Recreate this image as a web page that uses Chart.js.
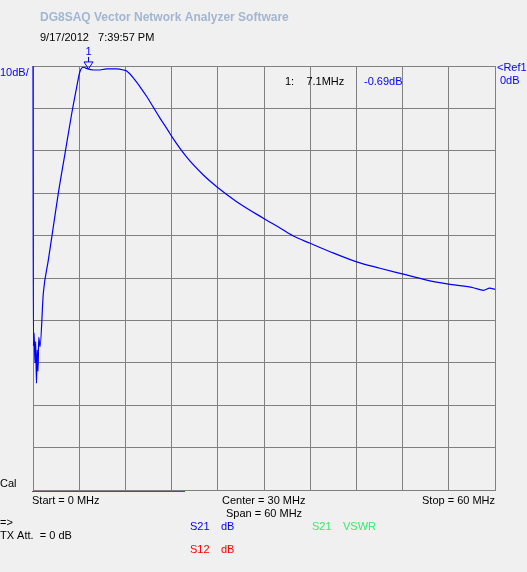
<!DOCTYPE html>
<html>
<head>
<meta charset="utf-8">
<script src="https://cdn.jsdelivr.net/npm/chart.js@4.4.1/dist/chart.umd.min.js"></script>
<style>
  html, body { margin: 0; padding: 0; background: #f0f0f0; overflow: hidden; }
  #vna { display: block; }
</style>
</head>
<body>
<canvas id="vna" width="527" height="572"></canvas>
<script>
// --- Số liệu (MHz, dB) ---
const freqMHz = [0, 0.05, 0.15, 0.25, 0.35, 0.45, 0.55, 0.65, 0.75, 0.91, 1.34, 1.99, 2.64, 3.29, 4.16, 5.03, 5.68, 6.10, 6.53, 6.8, 7.1, 7.83, 8.48, 9.57, 10.87, 11.73, 12.17, 13.03, 13.9, 14.77, 15.62, 16.49, 17.57, 18.01, 19.96, 22.12, 23.94, 26.45, 29.91, 32.08, 33.81, 35.97, 38.57, 42.04, 45.06, 48.09, 51.13, 54.16, 57.18, 58.5, 59.3, 60];
const s21dB = [0, -66, -63, -70, -65, -74.8, -67, -72, -64, -66.2, -53.6, -45.8, -37.9, -30.0, -20.6, -11.2, -4.9, -1.3, -0.3, -0.45, -0.69, -0.94, -0.94, -0.7, -0.7, -0.94, -1.2, -2.8, -4.9, -7.2, -9.7, -12.3, -15.3, -16.6, -21.5, -25.7, -28.6, -32.0, -35.9, -38.2, -40.1, -41.8, -43.8, -46.2, -47.7, -49.1, -50.5, -51.5, -52.3, -52.9, -52.4, -52.7];
const xTicks = [0, 6, 12, 18, 24, 30, 36, 42, 48, 54, 60];
const yTicks = [0, -10, -20, -30, -40, -50, -60, -70, -80, -90, -100];
const marker = { n: 1, f: 7.1, db: -0.69 };

const points = freqMHz.map((f, i) => ({ x: f, y: s21dB[i] }));
const FONT = '11px "Liberation Sans", Arial, sans-serif';

function txt(ctx, s, x, y, color, font) {
	ctx.fillStyle = color;
	ctx.font = font || FONT;
	ctx.textBaseline = "alphabetic";
	ctx.textAlign = "left";
	ctx.fillText(s, x, y);
}

// --- Plugin vẽ chữ và marker ---
const vnaText = {
	id: "vnaText",
	beforeDraw(chart) {
		const c = chart.ctx;
		c.save();
		c.fillStyle = "#f0f0f0";
		c.fillRect(0, 0, chart.width, chart.height);
		c.restore();
	},
	afterDraw(chart) {
		const c = chart.ctx;
		const { x, y } = chart.scales;
		const a = chart.chartArea;
		c.save();
		txt(c, "DG8SAQ Vector Network Analyzer Software", 40, 21, "#a2b6d2", 'bold 12px "Liberation Sans", Arial, sans-serif');
		txt(c, "9/17/2012   7:39:57 PM", 40, 41, "#000");
		txt(c, "10dB/", 0, 76, "#0000ff");
		txt(c, "1:    7.1MHz", 285, 85, "#000");
		txt(c, "-0.69dB", 364, 85, "#0000ff");
		txt(c, "<Ref1", 497, 71, "#0000ff");
		txt(c, "0dB", 500, 84, "#0000ff");
		txt(c, "Cal", 0, 487, "#000");
		txt(c, "Start = 0 MHz", 32, 504, "#000");
		txt(c, "Center = 30 MHz", 222, 504, "#000");
		txt(c, "Span = 60 MHz", 226, 517, "#000");
		txt(c, "Stop = 60 MHz", 422, 504, "#000");
		txt(c, "=>", 0, 526, "#000");
		txt(c, "TX Att.  = 0 dB", 0, 539, "#000");
		txt(c, "S21", 190, 530, "#0000ff");
		txt(c, "dB", 221, 530, "#0000ff");
		txt(c, "S21", 312, 530, "#33ee66");
		txt(c, "VSWR", 343, 530, "#33ee66");
		txt(c, "S12", 190, 553, "#ff0000");
		txt(c, "dB", 221, 553, "#ff0000");

		// thanh tiến trình xanh dưới trục
		c.fillStyle = "#1e7a1e";
		c.fillRect(a.left - 1, a.bottom + 1, 153, 1);

		// marker 1
		const mx = Math.round(x.getPixelForValue(marker.f)) + 0.5;
		const my = y.getPixelForValue(marker.db);
		c.strokeStyle = "#0000ff";
		c.lineWidth = 1;
		c.beginPath();
		c.moveTo(mx - 4.5, my - 7);
		c.lineTo(mx + 4.5, my - 7);
		c.lineTo(mx, my);
		c.closePath();
		c.moveTo(mx, my - 7);
		c.lineTo(mx, my - 12);
		c.stroke();
		txt(c, String(marker.n), mx - 3, my - 14, "#0000ff");
		c.restore();
	}
};

new Chart(document.getElementById("vna"), {
	type: "line",
	data: { datasets: [{ data: points, borderColor: "#0000ff", borderWidth: 1.2, pointRadius: 0, cubicInterpolationMode: "monotone", fill: false, clip: 3 }] },
	options: {
		responsive: false, animation: false, devicePixelRatio: 1,
		layout: { padding: { left: 33, top: 66, right: 32, bottom: 82 } },
		plugins: { legend: { display: false }, tooltip: { enabled: false } },
		scales: {
			x: {
				type: "linear", min: 0, max: 60,
				afterBuildTicks: (s) => { s.ticks = xTicks.map(v => ({ value: v })); },
				afterFit: (s) => { s.height = 0; },
				ticks: { display: false },
				grid: { color: "#808080", lineWidth: 1, drawTicks: false },
				border: { color: "#808080" }
			},
			y: {
				type: "linear", min: -100, max: 0,
				afterBuildTicks: (s) => { s.ticks = yTicks.map(v => ({ value: v })); },
				afterFit: (s) => { s.width = 0; },
				ticks: { display: false },
				grid: { color: "#808080", lineWidth: 1, drawTicks: false },
				border: { color: "#808080" }
			}
		}
	},
	plugins: [vnaText]
});
</script>
</body>
</html>
